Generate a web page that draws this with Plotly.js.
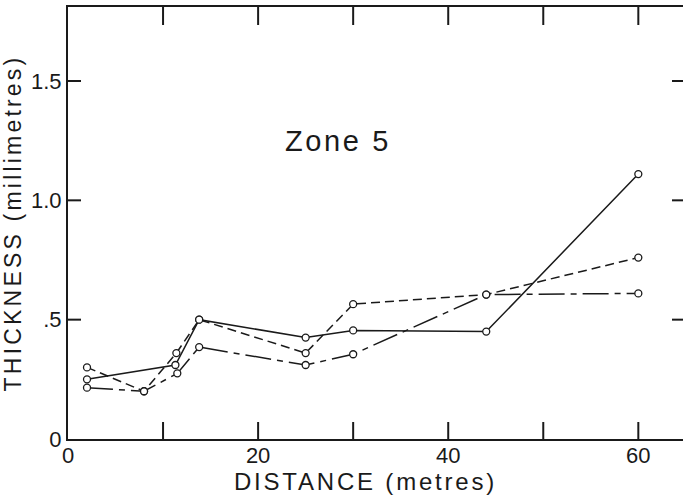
<!DOCTYPE html>
<html>
<head>
<meta charset="utf-8">
<script src="https://cdn.plot.ly/plotly-3.0.1.min.js"></script>
<style>
  html, body { margin: 0; padding: 0; overflow: hidden; background: #fff; }
  #chart { width: 683px; height: 501px; }
  .xtitle { letter-spacing: 2.8px; transform: translateX(-10px); }
  .ytitle { letter-spacing: 3.2px; }
  .annotation-text { letter-spacing: 2.6px; }
</style>
</head>
<body>
<div id="chart"></div>
<script>
// Distance (metres) along the transect for each series
const solidX   = [2, 11.3, 13.8, 25, 30, 44, 60];
const solidY   = [0.25, 0.31, 0.50, 0.425, 0.455, 0.45, 1.11];

const dashedX  = [2, 8, 11.4, 13.8, 25, 30, 44, 60];
const dashedY  = [0.30, 0.20, 0.36, 0.50, 0.36, 0.565, 0.605, 0.76];

const dashDotX = [2, 8, 11.5, 13.8, 25, 30, 44, 60];
const dashDotY = [0.215, 0.20, 0.275, 0.385, 0.31, 0.355, 0.605, 0.61];

const xTickVals = [0, 10, 20, 30, 40, 50, 60];
const xTickText = ['0', '', '20', '', '40', '', '60'];
const yTickVals = [0, 0.5, 1.0, 1.5];
const yTickText = ['0', '.5', '1.0', '1.5'];

const X_RANGE = [0, 64.7];
const Y_RANGE = [0, 1.81];

const FONT = 'Liberation Sans, Arial, Helvetica, sans-serif';
const INK = '#1a1a1a';

function series(name, x, y, dash) {
  return {
    type: 'scatter', mode: 'lines+markers', name: name, x: x, y: y,
    line: { color: INK, width: 1.5, dash: dash },
    marker: { symbol: 'circle', size: 7, color: '#ffffff', line: { color: INK, width: 1.3 } }
  };
}

const data = [
  series('Series A', dashDotX, dashDotY, '26px,6px,6px,6px'),
  series('Series B', dashedX, dashedY, '9px,5px'),
  series('Series C', solidX, solidY, 'solid')
];

// Inward tick marks drawn as pixel-sized shapes anchored at the tick values
const tickShapes = [];
xTickVals.filter(function (v) { return v > 0; }).forEach(function (v) {
  [[Y_RANGE[0], 17], [Y_RANGE[1], -18]].forEach(function (p) {
    tickShapes.push({ type: 'line', xref: 'x', yref: 'y', ysizemode: 'pixel', yanchor: p[0],
      x0: v, x1: v, y0: 0, y1: p[1], line: { color: INK, width: 2 } });
  });
});
yTickVals.filter(function (v) { return v > 0; }).forEach(function (v) {
  [[X_RANGE[0], 13], [X_RANGE[1], -11]].forEach(function (p) {
    tickShapes.push({ type: 'line', xref: 'x', yref: 'y', xsizemode: 'pixel', xanchor: p[0],
      x0: 0, x1: p[1], y0: v, y1: v, line: { color: INK, width: 2 } });
  });
});

const layout = {
  width: 683, height: 501,
  margin: { l: 68, r: 0, t: 7, b: 62 },
  showlegend: false,
  font: { family: FONT, color: INK },
  xaxis: {
    range: X_RANGE, showgrid: false, zeroline: false,
    showline: true, linecolor: INK, linewidth: 2, mirror: true,
    ticks: '', tickmode: 'array', tickvals: xTickVals, ticktext: xTickText,
    tickfont: { family: FONT, size: 22, color: INK },
    ticklabelstandoff: -4,
    title: { text: 'DISTANCE (metres)', font: { family: FONT, size: 24, color: INK }, standoff: 6 }
  },
  yaxis: {
    range: Y_RANGE, showgrid: false, zeroline: false,
    showline: true, linecolor: INK, linewidth: 2, mirror: true,
    ticks: '', tickmode: 'array', tickvals: yTickVals, ticktext: yTickText,
    tickfont: { family: FONT, size: 22, color: INK },
    title: { text: 'THICKNESS (millimetres)', font: { family: FONT, size: 23, color: INK }, standoff: 4 }
  },
  shapes: tickShapes,
  annotations: [{
    text: 'Zone 5', x: 28.4, y: 1.25, xref: 'x', yref: 'y', showarrow: false,
    font: { family: FONT, size: 29, color: INK }
  }]
};

Plotly.newPlot('chart', data, layout, { displayModeBar: false, staticPlot: true });
</script>
</body>
</html>
